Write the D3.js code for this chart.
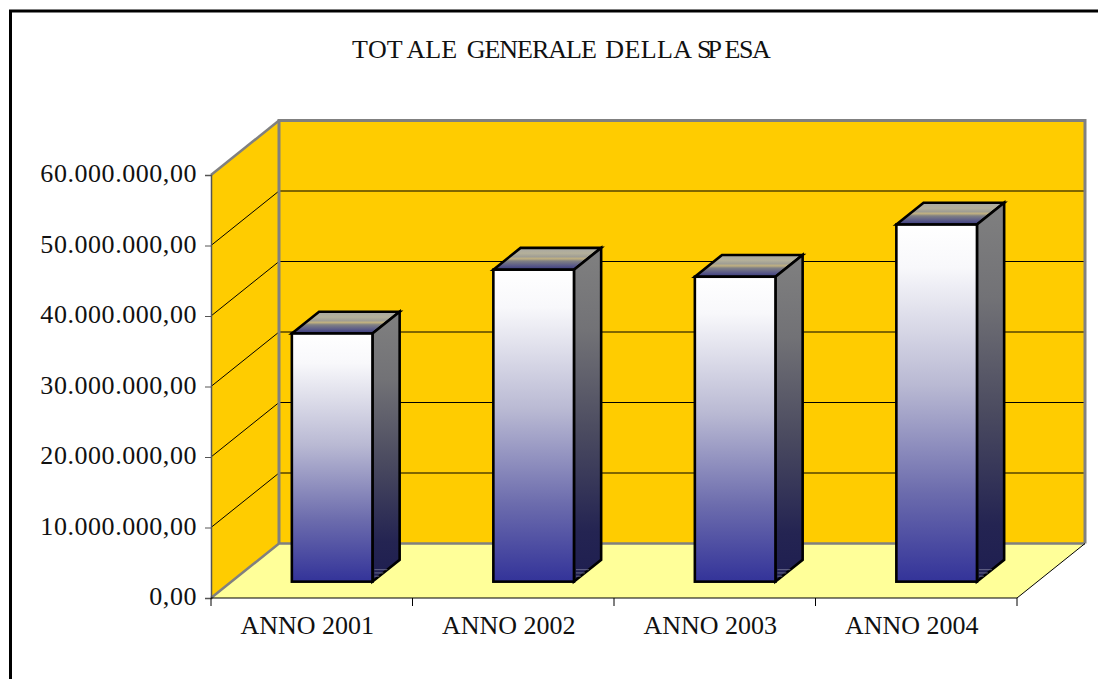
<!DOCTYPE html>
<html>
<head>
<meta charset="utf-8">
<script src="https://cdn.jsdelivr.net/npm/d3@7"></script>
<style>
  html, body { margin: 0; padding: 0; background: #fff; }
  svg { display: block; }
  text { font-family: "Liberation Serif", serif; fill: #111; font-kerning: none; }
</style>
</head>
<body>
<div id="container"></div>
<script>
/* DATA */
const categories = ["ANNO 2001", "ANNO 2002", "ANNO 2003", "ANNO 2004"];
const spesa = [35200000, 44250000, 43250000, 50650000];
const yTicks = [0, 10000000, 20000000, 30000000, 40000000, 50000000, 60000000];
const title = "TOTALE GENERALE DELLA SPESA";

/* CONSTANTS */
const width = 1098, height = 679;
const axisGray = "#808080";

const svg = d3.select("#container").append("svg")
  .attr("width", width)
  .attr("height", height);

/* SCALES */
const xScale = d3.scaleBand().domain(categories).range([211, 1017]);
const yScale = d3.scaleLinear().domain([0, 60000000]).range([598, 175]);
// depth of the 3d box: 0 = front plane, 1 = back wall
const zX = d3.scaleLinear().domain([0, 1]).range([0, 68]);
const zY = d3.scaleLinear().domain([0, 1]).range([0, -54.5]);
const barWidth = xScale.bandwidth() * 0.4;
const zFront = 0.3, zBack = 0.7;

const fmt = d => d3.format(",.2f")(d).replace(/,/g, "#").replace(".", ",").replace(/#/g, ".");

/* GRADIENTS */
const defs = svg.append("defs");
function grad(id, stops) {
  defs.append("linearGradient")
    .attr("id", id)
    .attr("x1", 0).attr("y1", 0).attr("x2", 0).attr("y2", 1)
    .selectAll("stop").data(stops).join("stop")
    .attr("offset", d => d[0])
    .attr("stop-color", d => d[1]);
}
grad("front", [[0, "#ffffff"], [0.12, "#f8f8fb"], [0.45, "#b9b9d3"], [0.75, "#6c6cad"], [1, "#333399"]]);
grad("side", [[0, "#808080"], [0.25, "#727276"], [0.55, "#4b4b60"], [0.85, "#242452"], [1, "#1e1e50"]]);
grad("top", [[0, "#a8a8a4"], [0.25, "#b4b09a"], [0.4, "#a09e94"], [0.5, "#c0b080"], [0.6, "#808084"], [0.8, "#5c5c88"], [1, "#38387f"]]);

/* FRAME */
svg.append("path")
  .attr("d", `M${width},11H10.5V${height}`)
  .attr("fill", "none")
  .attr("stroke", "#000")
  .attr("stroke-width", 3);

/* WALLS AND FLOOR */
const x0 = xScale.range()[0], x1 = xScale.range()[1];
const y0 = yScale(0), yTop = yScale(60000000);
const dx = zX(1), dy = zY(1);

const poly = (pts, fill) => svg.append("polygon")
  .attr("points", pts.map(p => p.join(",")).join(" "))
  .attr("fill", fill);

poly([[x0 + dx, yTop + dy], [x1 + dx, yTop + dy], [x1 + dx, y0 + dy], [x0 + dx, y0 + dy]], "#ffcc00");
poly([[x0, yTop], [x0 + dx, yTop + dy], [x0 + dx, y0 + dy], [x0, y0]], "#ffcc00");
poly([[x0, y0], [x0 + dx, y0 + dy], [x1 + dx, y0 + dy], [x1, y0]], "#ffff99");

/* GRIDLINES */
svg.append("g").selectAll("path")
  .data(yTicks.slice(1, -1))
  .join("path")
  .attr("d", d => `M${x0},${yScale(d)}L${x0 + dx},${yScale(d) + dy}H${x1 + dx}`)
  .attr("fill", "none")
  .attr("stroke", "#000")
  .attr("stroke-width", 1);

/* WALL EDGES */
const edge = (d, w, c) => svg.append("path")
  .attr("d", d).attr("fill", "none").attr("stroke", c).attr("stroke-width", w);
edge(`M${x0},${y0}L${x0 + dx},${y0 + dy}H${x1 + dx}`, 2.5, axisGray);
edge(`M${x0},${yTop}L${x0 + dx},${yTop + dy}`, 2.5, axisGray);
edge(`M${x0 + dx},${y0 + dy}V${yTop + dy}H${x1 + dx}V${y0 + dy}`, 3, axisGray);
edge(`M${x1},${y0}L${x1 + dx},${y0 + dy}`, 1, "#000");

/* AXES */
const yAxis = svg.append("g")
  .attr("transform", `translate(${x0},0)`)
  .call(d3.axisLeft(yScale).tickValues(yTicks).tickFormat(fmt).tickSize(6).tickPadding(8));
yAxis.select(".domain").attr("stroke", "#555").attr("stroke-width", 1.5);
yAxis.selectAll(".tick line").attr("stroke", "#555");
yAxis.selectAll("text")
  .attr("fill", "#111")
  .attr("dy", "0.26em")
  .style("font-family", '"Liberation Serif", serif')
  .style("font-size", "26px")
  .style("letter-spacing", "0.55px");

const xAxis = svg.append("g")
  .attr("transform", `translate(0,${y0})`)
  .call(d3.axisBottom(xScale).tickSize(0).tickPadding(18));
xAxis.select(".domain").remove();
xAxis.selectAll("text")
  .attr("fill", "#111")
  .attr("dx", -4.5)
  .style("font-family", '"Liberation Serif", serif')
  .style("font-size", "26px");

// ticks sit between the bands, not on their centres
xAxis.selectAll(".edge")
  .data(categories.map(c => xScale(c)).concat(x1))
  .join("line")
  .attr("class", "edge")
  .attr("x1", d => d).attr("x2", d => d)
  .attr("y1", 0).attr("y2", 8)
  .attr("stroke", "#000");
xAxis.append("line")
  .attr("x1", x0).attr("x2", x1)
  .attr("stroke", "#000")
  .attr("stroke-width", 1.2);

/* BARS */
const bars = svg.append("g").selectAll("g")
  .data(categories.map((c, i) => ({ cat: c, val: spesa[i] })))
  .join("g")
  .attr("stroke", "#000")
  .attr("stroke-width", 2.6)
  .attr("stroke-linejoin", "miter");

const left = d => xScale(d.cat) + (xScale.bandwidth() - barWidth) / 2 + zX(zFront);
const right = d => left(d) + barWidth;
const fx = zX(zFront), fy = zY(zFront);
const bx = zX(zBack) - fx, by = zY(zBack) - fy;

bars.append("polygon")
  .attr("fill", "url(#top)")
  .attr("points", d => {
    const t = yScale(d.val) + fy;
    return [[left(d), t], [left(d) + bx, t + by], [right(d) + bx, t + by], [right(d), t]].join(" ");
  });
bars.append("polygon")
  .attr("fill", "url(#side)")
  .attr("points", d => {
    const t = yScale(d.val) + fy, b = y0 + fy;
    return [[right(d), t], [right(d) + bx, t + by], [right(d) + bx, b + by], [right(d), b]].join(" ");
  });

// light streaks in the foot of the side face
bars.selectAll(".streak")
  .data(d => [0.25, 0.4, 0.55].map(k => ({ d, k })))
  .join("line")
  .attr("class", "streak")
  .attr("x1", s => right(s.d) + 2)
  .attr("x2", s => right(s.d) + bx * s.k)
  .attr("y1", s => y0 + fy + by * s.k)
  .attr("y2", s => y0 + fy + by * s.k)
  .attr("stroke", "#9a9ab0")
  .attr("stroke-opacity", 0.6)
  .attr("stroke-width", 1);

bars.append("rect")
  .attr("fill", "url(#front)")
  .attr("x", left)
  .attr("y", d => yScale(d.val) + fy)
  .attr("width", barWidth)
  .attr("height", d => yScale(0) - yScale(d.val));

/* TITLE */
// per-letter nudges, the reference has uneven letter spacing
const titleNudge = [0, 0, 0, 4, 0, 0, 0, 3, -1, -1, -1, -1, -1, -1, -1, 1.5, 0.4, 0.4, 0.4, 0.4, 0.4, 0, -1.5, -4, 2.5, -1.5, -1.5];
svg.append("text")
  .attr("x", 352)
  .attr("y", 58)
  .attr("dx", titleNudge.join(" "))
  .style("font-size", "26px")
  .text(title);
</script>
</body>
</html>
